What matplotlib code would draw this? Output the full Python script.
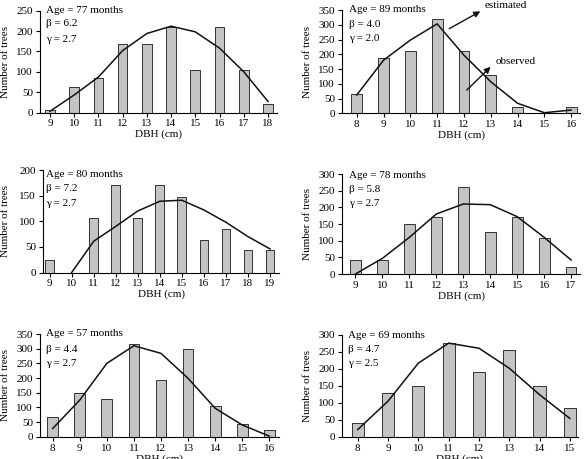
import matplotlib
matplotlib.use("Agg")
import matplotlib.pyplot as plt

plt.rcParams['font.family'] = ['Liberation Serif', 'DejaVu Serif']
plt.rcParams['font.size'] = 8

# Panel 1: Age 77
dbh1 = [9, 10, 11, 12, 13, 14, 15, 16, 17, 18]
obs1 = [5, 63, 85, 168, 168, 210, 105, 210, 105, 21]
est1 = [3, 43, 87, 152, 194, 212, 198, 158, 100, 27]

# Panel 2: Age 89
dbh2 = [8, 9, 10, 11, 12, 13, 14, 15, 16]
obs2 = [64, 187, 211, 318, 211, 130, 23, 0, 23]
est2 = [62, 180, 248, 303, 197, 107, 34, 2, 11]

# Panel 3: Age 80
dbh3 = [9, 10, 11, 12, 13, 14, 15, 16, 17, 18, 19]
obs3 = [24, 0, 106, 171, 106, 171, 147, 63, 84, 44, 44]
est3 = [None, 0, 61, 90, 120, 139, 141, 122, 98, 70, 46]

# Panel 4: Age 78
dbh4 = [9, 10, 11, 12, 13, 14, 15, 16, 17]
obs4 = [42, 42, 150, 172, 260, 127, 172, 107, 20]
est4 = [0, 47, 110, 180, 210, 208, 172, 110, 42]

# Panel 5: Age 57
dbh5 = [8, 9, 10, 11, 12, 13, 14, 15, 16]
obs5 = [66, 148, 128, 316, 193, 299, 106, 43, 23]
est5 = [28, 125, 250, 310, 284, 199, 97, 40, 2]

# Panel 6: Age 69
dbh6 = [8, 9, 10, 11, 12, 13, 14, 15]
obs6 = [41, 129, 149, 277, 191, 256, 149, 84]
est6 = [21, 105, 217, 276, 261, 202, 124, 54]

ages = ["77", "89", "80", "78", "57", "69"]
betas = ["6.2", "4.0", "7.2", "5.8", "4.4", "4.7"]
gammas = ["2.7", "2.0", "2.7", "2.7", "2.7", "2.5"]

W, H = 587, 459
fig = plt.figure(figsize=(W / 100, H / 100), dpi=100)

def rect(l, r, t, b):
    return [l / W, 1 - b / H, (r - l) / W, (b - t) / H]

panels = [
    dict(d=dbh1, o=obs1, e=est1, pos=rect(40, 277, 10.7, 112.5), xl=(8.59, 18.37), yt=250,
         txt=(0.025, [1.0, 0.87, 0.72]), ylx=-0.127),
    dict(d=dbh2, o=obs2, e=est2, pos=rect(342, 580, 10, 113.3), xl=(7.45, 16.33), yt=350,
         txt=(0.028, [1.0, 0.855, 0.72]), ylx=-0.127),
    dict(d=dbh3, o=obs3, e=est3, pos=rect(43, 279.3, 170, 272.5), xl=(8.7, 19.42), yt=200,
         txt=(0.012, [0.96, 0.816, 0.678]), ylx=-0.14),
    dict(d=dbh4, o=obs4, e=est4, pos=rect(342, 580, 174, 274), xl=(8.5, 17.33), yt=300,
         txt=(0.028, [0.99, 0.84, 0.70]), ylx=-0.127),
    dict(d=dbh5, o=obs5, e=est5, pos=rect(40, 279.3, 334, 436.7), xl=(7.53, 16.37), yt=350,
         txt=(0.025, [1.0, 0.85, 0.715]), ylx=-0.125),
    dict(d=dbh6, o=obs6, e=est6, pos=rect(342, 578, 335, 436.7), xl=(7.48, 15.27), yt=300,
         txt=(0.025, [1.0, 0.86, 0.72]), ylx=-0.127),
]

axes = []
for i, p in enumerate(panels):
    ax = fig.add_axes(p['pos'])
    axes.append(ax)
    ax.bar(p['d'], p['o'], width=0.4, color='#c4c4c4', edgecolor='#333333', linewidth=0.7, zorder=2)
    xs = [x for x, y in zip(p['d'], p['e']) if y is not None]
    ys = [y for y in p['e'] if y is not None]
    ax.plot(xs, ys, color='#111111', lw=1.1, zorder=3)
    ax.set_xlim(*p['xl'])
    ax.set_ylim(0, p['yt'])
    ax.set_yticks(range(0, p['yt'] + 1, 50))
    ax.set_xticks(p['d'])
    for s in ['top', 'right']:
        ax.spines[s].set_visible(False)
    for s in ['left', 'bottom']:
        ax.spines[s].set_linewidth(0.8)
    ax.tick_params(direction='out', length=3, width=0.8, labelsize=8, pad=2)
    ax.set_xlabel("DBH (cm)", fontsize=8, labelpad=1)
    ax.set_ylabel("Number of trees", fontsize=8)
    ax.yaxis.set_label_coords(p['ylx'], 0.5)
    tx, tys = p['txt']
    lines = ["Age = %s months" % ages[i], "β = %s" % betas[i], "γ = %s" % gammas[i]]
    for ty, s in zip(tys, lines):
        ax.text(tx, ty, s, transform=ax.transAxes, ha='left', va='center', fontsize=8, clip_on=False)

ax2 = axes[1]
ax2.annotate("", xy=(12.7, 350), xytext=(11.36, 282),
             arrowprops=dict(arrowstyle='-|>', color='#111111', lw=1.0, mutation_scale=9), annotation_clip=False)
ax2.text(12.78, 364, "estimated", ha='left', va='center', fontsize=8, clip_on=False)
ax2.annotate("", xy=(13.07, 164), xytext=(12.03, 72),
             arrowprops=dict(arrowstyle='-|>', color='#111111', lw=1.0, mutation_scale=9), annotation_clip=False)
ax2.text(13.2, 177, "observed", ha='left', va='center', fontsize=8, clip_on=False)

fig.savefig("out.png", dpi=100)
